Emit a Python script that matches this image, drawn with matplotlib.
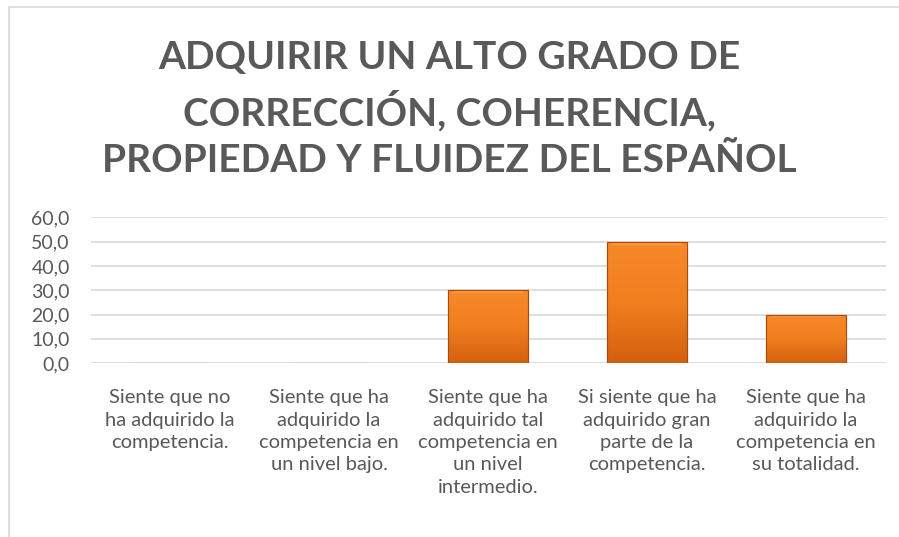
import numpy as np
import matplotlib.pyplot as plt
from matplotlib.patches import Rectangle

categories = [
    "Siente que no\nha adquirido la\ncompetencia.",
    "Siente que ha\nadquirido la\ncompetencia en\nun nivel bajo.",
    "Siente que ha\nadquirido tal\ncompetencia en\nun nivel\nintermedio.",
    "Si siente que ha\nadquirido gran\nparte de la\ncompetencia.",
    "Siente que ha\nadquirido la\ncompetencia en\nsu totalidad.",
]
values = [0.0, 0.0, 30.0, 50.0, 20.0]
yticks = [0, 10, 20, 30, 40, 50, 60]
title = "ADQUIRIR UN ALTO GRADO DE\nCORRECCIÓN, COHERENCIA,\nPROPIEDAD Y FLUIDEZ DEL ESPAÑOL"

plt.rcParams['font.family'] = ['Lato', 'DejaVu Sans']
grey = '#595959'

fig = plt.figure(figsize=(8.99, 5.37), dpi=100)
ax = fig.add_axes([0.1007, 0.324, 0.8843, 0.271])

# chart frame
fig.patches.append(Rectangle((9 / 899, -0.01), 1.0, 1 - 7 / 537 + 0.01,
                             transform=fig.transFigure, fill=False,
                             edgecolor='#d9d9d9', linewidth=1.2))

x = np.arange(len(values))
bars = ax.bar(x, values, width=0.5, color='#ee7a1e', edgecolor='#b4530f',
              linewidth=0.8, zorder=3)

# vertical gradient on each bar
grad = np.linspace(0, 1, 100).reshape(-1, 1)
cmap = plt.matplotlib.colors.LinearSegmentedColormap.from_list(
    'og', ['#d4600f', '#f07f1e', '#f7882a'])
for b in bars:
    if b.get_height() <= 0:
        continue
    bx, by = b.get_x(), b.get_y()
    w, h = b.get_width(), b.get_height()
    im = ax.imshow(grad, extent=[bx, bx + w, by, by + h], origin='lower',
                   cmap=cmap, aspect='auto', zorder=3.5)
    im.set_clip_path(b)
    # bevel highlight at top
    ax.add_patch(Rectangle((bx + w * 0.06, by + h - 1.2), w * 0.88, 1.0,
                           color='#fbb060', alpha=0.5, linewidth=0, zorder=4))
    ax.add_patch(Rectangle((bx, by), w, h, fill=False, edgecolor='#a84b0c',
                           linewidth=0.8, zorder=5))

ax.set_xlim(-0.5, len(values) - 0.5)
ax.set_ylim(0, 60)
ax.set_yticks(yticks)
ax.set_yticklabels([f"{v:.1f}".replace('.', ',') for v in yticks],
                   fontsize=14, color=grey)
ax.set_xticks(x)
ax.set_xticklabels(categories, fontsize=14.5, color=grey, linespacing=1.38,
                   va='top')
ax.tick_params(length=0)
ax.tick_params(axis='y', pad=15)
ax.tick_params(axis='x', pad=19)
ax.grid(axis='y', color='#d9d9d9', linewidth=1.2, zorder=0)
for s in ax.spines.values():
    s.set_visible(False)
ax.set_axisbelow(True)

fig.text(0.5, 0.797, title, ha='center', va='center', fontsize=28,
         fontweight='bold', color=grey, linespacing=1.4)

plt.savefig('out.png', dpi=100)
